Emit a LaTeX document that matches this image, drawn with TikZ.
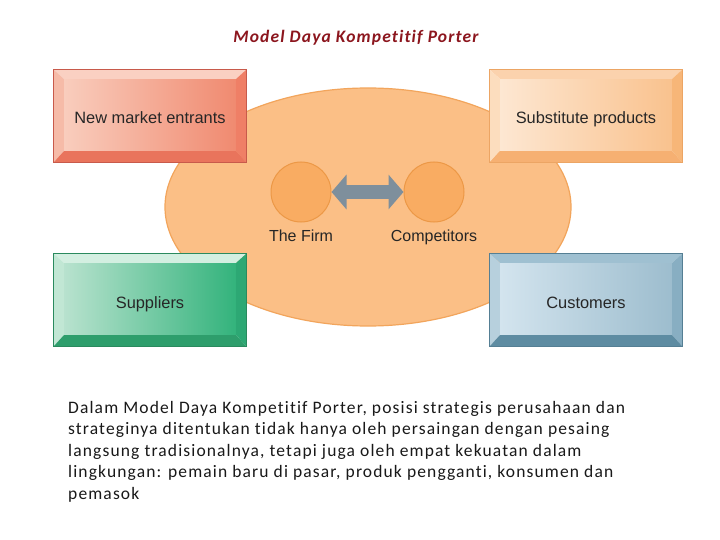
\documentclass[tikz,border=0pt]{standalone}
\usepackage{fontspec}
\setmainfont{Carlito}[LetterSpace=6.5,Ligatures=NoCommon]
\newfontfamily\arialfont{Liberation Sans}
\usepackage{xcolor}
\definecolor{titlered}{RGB}{140,22,30}
\definecolor{ringfill}{RGB}{251,191,134}
\definecolor{ringline}{RGB}{242,165,92}
\definecolor{dotfill}{RGB}{249,172,98}
\definecolor{dotline}{RGB}{236,152,70}
\definecolor{arrowgray}{RGB}{126,143,156}
% new market entrants
\definecolor{nmeL}{RGB}{249,205,189}\definecolor{nmeR}{RGB}{240,138,112}
\definecolor{nmeT}{RGB}{250,208,194}\definecolor{nmeW}{RGB}{246,187,168}
\definecolor{nmeE}{RGB}{239,127,102}\definecolor{nmeB}{RGB}{233,116,92}
\definecolor{nmeX}{RGB}{200,90,75}
% substitute products
\definecolor{subL}{RGB}{253,231,210}\definecolor{subR}{RGB}{249,194,142}
\definecolor{subT}{RGB}{251,210,173}\definecolor{subW}{RGB}{252,221,190}
\definecolor{subE}{RGB}{247,182,120}\definecolor{subB}{RGB}{246,176,114}
\definecolor{subX}{RGB}{236,165,100}
% suppliers
\definecolor{supL}{RGB}{184,226,206}\definecolor{supR}{RGB}{51,179,124}
\definecolor{supT}{RGB}{211,239,225}\definecolor{supW}{RGB}{193,231,212}
\definecolor{supE}{RGB}{45,168,116}\definecolor{supB}{RGB}{46,158,108}
\definecolor{supX}{RGB}{42,138,94}
% customers
\definecolor{cusL}{RGB}{211,228,238}\definecolor{cusR}{RGB}{157,189,206}
\definecolor{cusT}{RGB}{159,192,209}\definecolor{cusW}{RGB}{183,208,221}
\definecolor{cusE}{RGB}{136,174,194}\definecolor{cusB}{RGB}{94,140,162}
\definecolor{cusX}{RGB}{85,127,148}
\usetikzlibrary{shapes.geometric,arrows.meta,positioning,calc}
\tikzset{
  forceface/.style={rectangle,minimum width=172pt,minimum height=72pt,inner sep=0pt,
    font=\arialfont\fontsize{16.4}{19}\selectfont,text=black!85,text height=20pt,text depth=2pt},
  firmdot/.style={circle,minimum size=60pt,inner sep=0pt,fill=dotfill,draw=dotline,line width=1pt},
  dotlabel/.style={font=\arialfont\fontsize{16}{19}\selectfont,text=black!85,inner sep=0pt},
  rivalry/.style={line width=14pt,draw=arrowgray,
    {Triangle[length=15pt,width=34pt]}-{Triangle[length=15pt,width=34pt]}},
}
% bevel round a face node: name, colour prefix
\newcommand{\bevelaround}[2]{%
  \fill[#2T] ($(#1.north west)+(-10,-9)$) -- ($(#1.north east)+(10,-9)$) -- (#1.north east) -- (#1.north west) -- cycle;
  \fill[#2W] ($(#1.north west)+(-10,-9)$) -- (#1.north west) -- (#1.south west) -- ($(#1.south west)+(-10,11)$) -- cycle;
  \fill[#2E] ($(#1.north east)+(10,-9)$) -- (#1.north east) -- (#1.south east) -- ($(#1.south east)+(10,11)$) -- cycle;
  \fill[#2B] ($(#1.south west)+(-10,11)$) -- (#1.south west) -- (#1.south east) -- ($(#1.south east)+(10,11)$) -- cycle;
  \draw[#2X,line width=0.8pt] ($(#1.north west)+(-10,-9)$) rectangle ($(#1.south east)+(10,11)$);
}

\begin{document}
\begin{tikzpicture}[x=1pt,y=-1pt]
  \useasboundingbox[fill=white] (0,0) rectangle (720,540);
  \node (title) [font=\bfseries\itshape\fontsize{17.5}{20}\selectfont,text=titlered] at (356,38) {Model Daya Kompetitif Porter};

  \node (ring) [ellipse,minimum width=406pt,minimum height=238pt,fill=ringfill,draw=ringline,line width=1.2pt] at (368,207) {};

  \node (firm) [firmdot] at (301,192) {};
  \node (comp) [firmdot] at (434,192) {};
  \draw[rivalry] (firm.east) -- (comp.west);
  \node (firmlbl) [dotlabel,below=7pt of firm] {The Firm};
  \node (complbl) [dotlabel,below=7pt of comp] {Competitors};

  \node (entrants) [forceface,left color=nmeL,right color=nmeR] at (150,115) {New market entrants};
  \bevelaround{entrants}{nme}
  \node (substitutes) [forceface,left color=subL,right color=subR] at (586,115) {Substitute products};
  \bevelaround{substitutes}{sub}
  \node (suppliers) [forceface,left color=supL,right color=supR] at (150,299) {Suppliers};
  \bevelaround{suppliers}{sup}
  \node (customers) [forceface,left color=cusL,right color=cusR] at (586,299) {Customers};
  \bevelaround{customers}{cus}

  \node (note) [anchor=north west,align=left,inner sep=0pt,text=black!90,
    font=\fontsize{17.5}{21.5}\selectfont] at (68,401)
    {Dalam Model Daya Kompetitif Porter, posisi strategis perusahaan dan\\
     strateginya ditentukan tidak hanya oleh persaingan dengan pesaing\\
     langsung tradisionalnya, tetapi juga oleh empat kekuatan dalam\\
     lingkungan: pemain baru di pasar, produk pengganti, konsumen dan\\
     pemasok};
\end{tikzpicture}
\end{document}
